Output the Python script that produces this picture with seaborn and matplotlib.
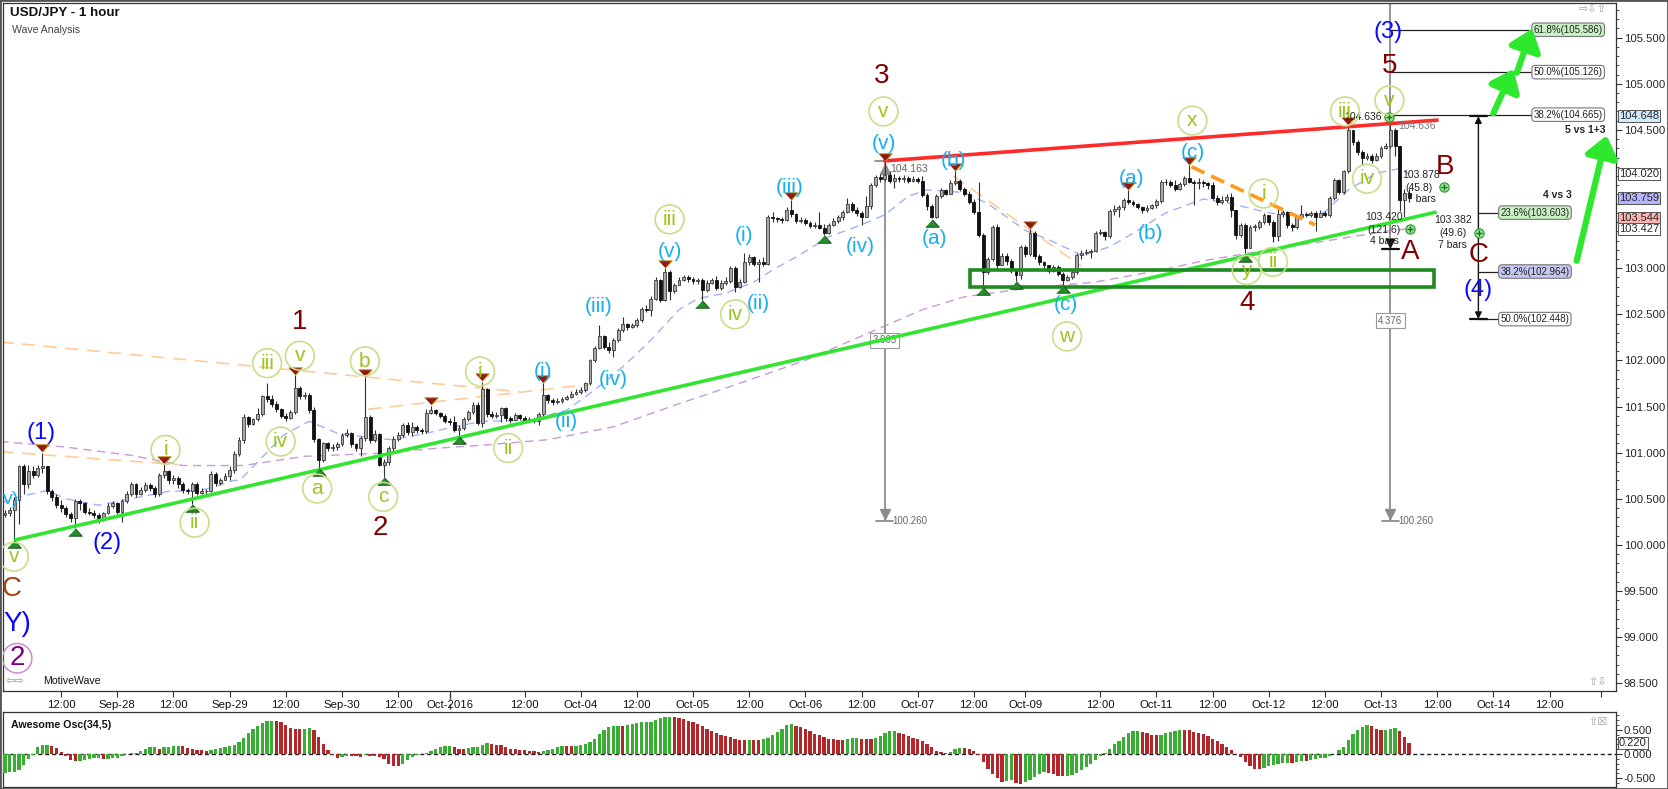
import numpy as np
import pandas as pd
import matplotlib
matplotlib.use("Agg")
import matplotlib.pyplot as plt
import matplotlib.transforms as mtransforms
from matplotlib.lines import Line2D
from matplotlib.patches import Rectangle
from matplotlib.ticker import MultipleLocator, FixedLocator
import seaborn as sns

sns.set_theme(style="white")
plt.rcParams["font.family"] = ["Liberation Sans", "DejaVu Sans"]
plt.rcParams["axes.linewidth"] = 0.8

# ---------------- data (USD/JPY hourly) ----------------
first_open = 100.32
closes = [
    100.34, 100.38, 100.49, 100.85, 100.66, 100.80, 100.76, 100.83, 100.85, 100.58,
    100.52, 100.43, 100.40, 100.33, 100.29, 100.47, 100.45, 100.36, 100.35, 100.32,
    100.27, 100.34, 100.42, 100.45, 100.36, 100.47, 100.55, 100.66, 100.55, 100.59,
    100.65, 100.62, 100.55, 100.76, 100.80, 100.70, 100.73, 100.66, 100.59, 100.58,
    100.66, 100.56, 100.58, 100.58, 100.77, 100.67, 100.70, 100.75, 100.81, 100.99,
    101.14, 101.39, 101.31, 101.36, 101.42, 101.61, 101.58, 101.53, 101.47, 101.40,
    101.37, 101.44, 101.70, 101.61, 101.62, 101.46, 101.15, 100.92, 101.10, 101.05,
    101.06, 101.09, 101.19, 101.21, 101.09, 101.05, 101.16, 101.39, 101.14, 101.20,
    100.87, 100.90, 101.05, 101.15, 101.19, 101.30, 101.22, 101.28, 101.25, 101.23,
    101.43, 101.46, 101.43, 101.40, 101.34, 101.33, 101.25, 101.27, 101.36, 101.44,
    101.52, 101.32, 101.69, 101.42, 101.40, 101.41, 101.48, 101.37, 101.35, 101.41,
    101.38, 101.35, 101.36, 101.34, 101.42, 101.62, 101.57, 101.55, 101.56, 101.58,
    101.60, 101.64, 101.66, 101.68, 101.75, 102.00, 102.13, 102.26, 102.15, 102.11,
    102.22, 102.33, 102.40, 102.36, 102.38, 102.44, 102.56, 102.55, 102.67, 102.87,
    102.66, 102.96, 102.75, 102.82, 102.87, 102.90, 102.88, 102.86, 102.87, 102.76,
    102.84, 102.87, 102.78, 102.84, 102.86, 103.00, 102.80, 102.85, 103.07, 103.12,
    103.05, 103.07, 103.05, 103.56, 103.54, 103.53, 103.52, 103.63, 103.59, 103.51,
    103.52, 103.49, 103.46, 103.47, 103.44, 103.38, 103.47, 103.51, 103.56, 103.61,
    103.70, 103.63, 103.60, 103.56, 103.67, 103.90, 103.99, 103.97, 104.01, 103.95,
    103.98, 103.97, 103.98, 103.95, 103.97, 103.95, 103.79, 103.67, 103.56, 103.78,
    103.85, 103.81, 103.92, 103.95, 103.86, 103.81, 103.72, 103.61, 103.36, 102.96,
    103.10, 103.45, 103.03, 103.13, 103.08, 102.98, 102.93, 103.23, 103.15, 103.38,
    103.13, 103.07, 103.03, 102.97, 103.01, 102.94, 102.87, 102.90, 102.96, 103.14,
    103.16, 103.18, 103.19, 103.38, 103.39, 103.35, 103.62, 103.64, 103.66, 103.74,
    103.72, 103.70, 103.66, 103.63, 103.65, 103.68, 103.73, 103.94, 103.93, 103.90,
    103.86, 103.91, 103.98, 103.94, 103.92, 103.93, 103.92, 103.90, 103.76, 103.72,
    103.74, 103.77, 103.63, 103.36, 103.47, 103.22, 103.45, 103.45, 103.50, 103.58,
    103.50, 103.35, 103.59, 103.61, 103.47, 103.45, 103.56, 103.59, 103.58, 103.60,
    103.55, 103.60, 103.58, 103.76, 103.96, 103.83, 104.05, 104.50, 104.37, 104.26,
    104.19, 104.22, 104.17, 104.22, 104.30, 104.33, 104.50, 104.32, 103.74, 103.82,
    103.76,
]
highs = [
    100.38, 100.41, 100.52, 100.87, 100.88, 100.87, 100.85, 100.87, 101.00, 100.85,
    100.60, 100.55, 100.49, 100.42, 100.36, 100.50, 100.50, 100.46, 100.40, 100.38,
    100.34, 100.36, 100.45, 100.48, 100.46, 100.50, 100.58, 100.68, 100.67, 100.63,
    100.68, 100.67, 100.64, 100.78, 100.88, 100.81, 100.76, 100.75, 100.68, 100.62,
    100.68, 100.68, 100.62, 100.61, 100.80, 100.79, 100.73, 100.78, 100.86, 101.02,
    101.17, 101.42, 101.40, 101.38, 101.48, 101.63, 101.75, 101.62, 101.56, 101.48,
    101.43, 101.46, 101.84, 101.72, 101.66, 101.65, 101.49, 101.16, 101.12, 101.11,
    101.09, 101.12, 101.21, 101.26, 101.22, 101.10, 101.18, 101.82, 101.41, 101.24,
    101.21, 100.93, 101.07, 101.18, 101.22, 101.32, 101.33, 101.33, 101.30, 101.27,
    101.47, 101.51, 101.47, 101.44, 101.42, 101.37, 101.40, 101.30, 101.39, 101.46,
    101.55, 101.55, 101.77, 101.70, 101.45, 101.44, 101.50, 101.50, 101.40, 101.43,
    101.42, 101.40, 101.39, 101.38, 101.44, 101.75, 101.64, 101.59, 101.59, 101.60,
    101.63, 101.67, 101.69, 101.71, 101.77, 102.02, 102.16, 102.38, 102.28, 102.20,
    102.24, 102.35, 102.47, 102.41, 102.41, 102.46, 102.58, 102.60, 102.70, 102.90,
    102.88, 103.00, 102.98, 102.84, 102.90, 102.93, 102.93, 102.90, 102.89, 102.89,
    102.87, 102.89, 102.91, 102.87, 102.90, 103.02, 103.02, 102.88, 103.16, 103.15,
    103.13, 103.10, 103.12, 103.58, 103.61, 103.56, 103.55, 103.66, 103.74, 103.60,
    103.55, 103.54, 103.51, 103.50, 103.61, 103.48, 103.49, 103.54, 103.58, 103.63,
    103.76, 103.72, 103.66, 103.62, 103.78, 103.92, 104.01, 104.02, 104.163, 104.05,
    104.02, 104.00, 104.01, 104.00, 104.00, 103.99, 104.00, 103.82, 103.70, 103.80,
    103.87, 103.86, 103.96, 104.05, 103.97, 103.88, 103.84, 103.75, 103.94, 103.38,
    103.12, 103.47, 103.48, 103.16, 103.16, 103.10, 102.99, 103.25, 103.25, 103.42,
    103.40, 103.15, 103.08, 103.04, 103.03, 103.03, 102.96, 102.93, 102.98, 103.16,
    103.20, 103.21, 103.21, 103.40, 103.42, 103.40, 103.64, 103.68, 103.69, 103.76,
    103.85, 103.74, 103.71, 103.67, 103.68, 103.70, 103.75, 103.96, 103.97, 103.96,
    103.96, 103.94, 104.00, 104.12, 103.96, 103.98, 103.96, 103.94, 103.93, 103.79,
    103.78, 103.80, 103.82, 103.63, 103.49, 103.49, 103.47, 103.48, 103.52, 103.60,
    103.58, 103.52, 103.64, 103.63, 103.62, 103.49, 103.58, 103.68, 103.61, 103.62,
    103.62, 103.63, 103.62, 103.78, 103.98, 103.97, 104.07, 104.554, 104.50, 104.39,
    104.28, 104.25, 104.24, 104.25, 104.32, 104.36, 104.636, 104.52, 104.32, 103.86,
    103.86,
]
lows = [
    100.30, 100.31, 100.05, 100.23, 100.55, 100.62, 100.72, 100.74, 100.78, 100.55,
    100.48, 100.40, 100.36, 100.30, 100.25, 100.18, 100.38, 100.33, 100.32, 100.29,
    100.24, 100.26, 100.33, 100.40, 100.33, 100.25, 100.45, 100.53, 100.52, 100.54,
    100.57, 100.58, 100.52, 100.53, 100.72, 100.66, 100.66, 100.62, 100.56, 100.55,
    100.44, 100.54, 100.55, 100.55, 100.57, 100.64, 100.65, 100.70, 100.70, 100.78,
    100.96, 101.10, 101.28, 101.30, 101.34, 101.40, 101.55, 101.50, 101.44, 101.37,
    101.34, 101.36, 101.42, 101.58, 101.58, 101.43, 101.12, 100.83, 100.90, 101.02,
    101.02, 101.03, 101.07, 101.17, 101.06, 101.02, 100.96, 101.13, 101.10, 101.12,
    100.85, 100.74, 100.87, 101.02, 101.13, 101.17, 101.19, 101.18, 101.21, 101.20,
    101.21, 101.42, 101.41, 101.37, 101.32, 101.30, 101.22, 101.18, 101.25, 101.34,
    101.42, 101.30, 101.28, 101.39, 101.37, 101.37, 101.33, 101.34, 101.32, 101.36,
    101.35, 101.33, 101.33, 101.32, 101.30, 101.40, 101.54, 101.52, 101.53, 101.54,
    101.57, 101.59, 101.62, 101.64, 101.66, 101.73, 101.98, 102.12, 102.12, 102.08,
    102.04, 102.20, 102.31, 102.33, 102.35, 102.36, 102.42, 102.52, 102.48, 102.65,
    102.63, 102.64, 102.66, 102.73, 102.82, 102.86, 102.85, 102.83, 102.83, 102.66,
    102.74, 102.83, 102.76, 102.76, 102.82, 102.84, 102.74, 102.78, 102.84, 103.04,
    103.02, 102.85, 103.02, 103.03, 103.50, 103.50, 103.49, 103.51, 103.56, 103.49,
    103.49, 103.47, 103.44, 103.44, 103.42, 103.36, 103.37, 103.46, 103.49, 103.52,
    103.60, 103.61, 103.57, 103.47, 103.55, 103.64, 103.88, 103.93, 103.95, 103.92,
    103.87, 103.93, 103.94, 103.92, 103.93, 103.92, 103.77, 103.63, 103.54, 103.54,
    103.76, 103.79, 103.80, 103.90, 103.84, 103.78, 103.70, 103.59, 103.34, 102.80,
    102.94, 103.08, 103.00, 103.06, 103.04, 102.95, 102.86, 102.88, 103.12, 103.13,
    103.10, 103.04, 103.00, 102.95, 102.96, 102.91, 102.82, 102.86, 102.88, 102.94,
    103.10, 103.14, 103.11, 103.18, 103.36, 103.31, 103.33, 103.58, 103.56, 103.63,
    103.70, 103.67, 103.64, 103.60, 103.61, 103.64, 103.65, 103.71, 103.90, 103.88,
    103.84, 103.85, 103.89, 103.92, 103.69, 103.86, 103.88, 103.86, 103.74, 103.69,
    103.70, 103.72, 103.56, 103.32, 103.34, 103.16, 103.30, 103.40, 103.43, 103.48,
    103.47, 103.28, 103.30, 103.55, 103.44, 103.40, 103.43, 103.55, 103.55, 103.56,
    103.40, 103.56, 103.55, 103.56, 103.74, 103.80, 103.81, 104.03, 104.34, 104.23,
    104.12, 104.17, 104.14, 104.16, 104.20, 104.29, 104.30, 104.22, 103.62, 103.55,
    103.72,
]
# oscillator values of the first bars (their 34-bar window lies before the chart)
ao_head = [-0.40, -0.38, -0.36, -0.32, -0.23, -0.10, -0.02, 0.14, 0.18, 0.18,
           0.16, 0.12, 0.05, -0.05, -0.12, -0.14, -0.14, -0.12, -0.10, -0.09,
           -0.09, -0.10, -0.10, -0.08, -0.075, -0.05, -0.01, 0.01, 0.03, 0.07,
           0.10, 0.14, 0.14]

tick_idx = [12, 24, 36, 48, 60, 72, 84, 95, 111, 123, 135, 147, 159, 171, 183, 195,
            207, 218, 234, 246, 258, 270, 282, 294, 306, 318, 330, 341]
tick_labels = ["12:00", "Sep-28", "12:00", "Sep-29", "12:00", "Sep-30", "12:00", "Oct-2016",
               "12:00", "Oct-04", "12:00", "Oct-05", "12:00", "Oct-06", "12:00", "Oct-07",
               "12:00", "Oct-09", "12:00", "Oct-11", "12:00", "Oct-12", "12:00", "Oct-13",
               "12:00", "Oct-14", "12:00", ""]
month_start_idx = 95
price_ticks = [98.5, 99.0, 99.5, 100.0, 100.5, 101.0, 101.5, 102.0, 102.5, 103.0, 103.5,
               104.0, 104.5, 105.0, 105.5]
price_tick_labels = ["98.500", "99.000", "99.500", "100.000", "100.500", "101.000",
                     "101.500", "102.000", "102.500", "103.000", "", "", "104.500",
                     "105.000", "105.500"]

blue_ma_idx = [-1, 3, 9, 13, 20, 27, 35, 42, 49, 50.2, 59.5, 65, 71, 80, 83, 90, 96, 102,
               112, 120, 126, 132, 138, 144, 148, 154, 160, 164, 169, 176, 183, 188, 193,
               197, 205, 210, 218, 223, 230, 236, 242, 248, 256, 262, 270, 277, 282, 287,
               293, 298, 300]
blue_ma_val = [100.45, 100.52, 100.59, 100.50, 100.43, 100.50, 100.58, 100.59, 100.70,
               100.70, 101.19, 101.34, 101.21, 101.15, 101.14, 101.21, 101.28, 101.34,
               101.35, 101.46, 101.68, 101.93, 102.22, 102.55, 102.67, 102.73, 102.85,
               102.98, 103.12, 103.34, 103.47, 103.58, 103.78, 103.85, 103.82, 103.70,
               103.41, 103.31, 103.14, 103.23, 103.41, 103.60, 103.75, 103.70, 103.60,
               103.56, 103.61, 103.85, 104.03, 104.08, 104.02]
purple_ma_idx = [-1, 13, 27, 38, 51, 64, 79, 93, 102, 116, 130, 144, 154, 171, 186, 196,
                 205, 218, 233, 247, 256, 270, 284, 295, 300]
purple_ma_val = [101.12, 101.06, 100.97, 100.86, 100.86, 100.96, 100.99, 101.05, 101.08,
                 101.14, 101.28, 101.53, 101.70, 102.00, 102.33, 102.55, 102.69, 102.78,
                 102.85, 102.98, 103.08, 103.20, 103.31, 103.40, 103.43]

swing_high_idx = [8, 34, 62, 77, 91, 102, 115, 141, 168, 188, 203, 219, 240, 253, 287]
swing_low_idx = [2, 15, 40, 67, 81, 97, 149, 175, 198, 209, 216, 226, 265]

circ_labels = ["v", "i", "ii", "iii", "iv", "v", "a", "b", "c", "i", "ii", "iii", "iv", "v",
               "w", "x", "y", "i", "ii", "iii", "iv", "v"]
circ_x = [1.9, 34.3, 40.5, 56.0, 58.9, 63.0, 66.7, 76.9, 80.8, 101.5, 107.5, 142.0, 156.0,
          187.7, 226.9, 253.7, 265.3, 268.9, 270.9, 286.3, 291.0, 295.8]
circ_y = [99.87, 101.03, 100.24, 101.97, 101.12, 102.05, 100.61, 101.99, 100.52, 101.88,
          101.05, 103.53, 102.50, 104.70, 102.26, 104.60, 102.98, 103.81, 103.07, 104.70,
          103.97, 104.82]

lb_labels = ["(i)", "(ii)", "(iii)", "(iv)", "(v)", "(i)", "(ii)", "(iii)", "(iv)",
             "(v)", "(a)", "(b)", "(c)", "(a)", "(b)", "(c)"]
lb_x = [114.9, 119.9, 126.8, 130.0, 142.0, 157.8, 161.0, 167.7, 182.7, 187.7, 198.7,
        202.6, 226.7, 240.7, 244.7, 253.7]
lb_y = [101.88, 101.34, 102.58, 101.79, 103.18, 103.35, 102.62, 103.87, 103.23,
        104.35, 103.32, 104.17, 102.61, 103.97, 103.38, 104.26]

blue_labels = ["(1)", "(2)", "(3)", "(4)"]
blue_x = [7.8, 21.9, 295.6, 314.8]
blue_y = [101.21, 100.02, 105.56, 102.76]

red_labels = ["1", "2", "3", "4", "5", "A", "B", "C"]
red_x = [63.0, 80.2, 187.3, 265.3, 295.8, 300.2, 307.7, 314.8]
red_y = [102.42, 100.18, 105.08, 102.62, 105.19, 103.18, 104.10, 103.14]

green_trend_x = [1.9, 305.9]
green_trend_y = [100.05, 103.61]
red_trend_x = [187.7, 306.3]
red_trend_y = [104.163, 104.607]
zone_x = [206.2, 305.3]
zone_y = [102.80, 102.98]
orange_x = [253.5, 279.9]
orange_y = [104.10, 103.47]
light_orange_segments = [
    ([-1.0, 110.0], [102.20, 101.66]),
    ([-1.0, 37.0], [101.01, 100.87]),
    ([77.6, 125.0], [101.47, 101.74]),
    ([202.6, 230.0], [104.00, 103.02]),
]

measure_x = [188.0, 296.0]
measure_top = [104.163, 105.86]
measure_bottom = [100.26, 100.26]
measure_box_y = [102.22, 102.43]
measure_box_text = ["3.903", "4.376"]

fib_up_levels = [105.586, 105.126, 104.665]
fib_up_text = ["61.8%(105.586)", "50.0%(105.126)", "38.2%(104.665)"]
fib_up_fc = ["#c9f2c4", "#ffffff", "#ffffff"]
fib_dn_levels = [103.603, 102.964, 102.448]
fib_dn_text = ["23.6%(103.603)", "38.2%(102.964)", "50.0%(102.448)"]
fib_dn_fc = ["#c9f2c4", "#c6c8f4", "#ffffff"]

target_arrows = [((318.0, 104.68), (322.3, 105.16)),
                 ((323.0, 105.12), (326.3, 105.60)),
                 ((335.8, 103.08), (342.2, 104.44))]

axis_boxes_val = [104.648, 104.020, 103.759, 103.544, 103.427]
axis_boxes_fc = ["#d2ecff", "#ffffff", "#b4b4ff", "#ffb4b4", "#ffffff"]

cplus_x = [295.6, 307.5, 300.2, 315.0]
cplus_y = [104.636, 103.88, 103.42, 103.38]

# ---------------- figure ----------------
W, H = 1668, 789
fig = plt.figure(figsize=(W / 100, H / 100), dpi=100)
fig.patch.set_facecolor("white")


def fx(px):
    return px / W


def fy(py):
    return 1 - py / H


ax = fig.add_axes([fx(2.5), fy(690.7), fx(1616) - fx(2.5), fy(3) - fy(690.7)])
ax2 = fig.add_axes([fx(2.5), fy(787), fx(1616) - fx(2.5), fy(712) - fy(787)])
XL = (-0.53, 344.2)
ax.set_xlim(*XL)
ax.set_ylim(98.418, 105.876)
ax2.set_xlim(*XL)
ax2.set_ylim(-0.678, 0.862)
for a in (ax, ax2):
    a.set_facecolor("white")
    for s in a.spines.values():
        s.set_color("#333333")
        s.set_linewidth(0.9)

idx = np.arange(len(closes))
c = np.array(closes)
o = np.r_[first_open, c[:-1]]
h = np.maximum(np.array(highs), np.maximum(o, c))
l = np.minimum(np.array(lows), np.minimum(o, c))
up = c >= o

# moving averages (dashed)
sns.lineplot(x=purple_ma_idx, y=purple_ma_val, ax=ax, color="#c99ad6", lw=1.0,
             linestyle=(0, (6, 4)), zorder=1)
sns.lineplot(x=blue_ma_idx, y=blue_ma_val, ax=ax, color="#9fb3f5", lw=1.0,
             linestyle=(0, (6, 4)), zorder=1)
for xs, ys in light_orange_segments:
    ax.plot(xs, ys, color="#ffcc99", lw=1.2, linestyle=(0, (8, 5)), zorder=1)

# measurement lines
for mx, mt, mb, by, bt in zip(measure_x, measure_top, measure_bottom, measure_box_y,
                              measure_box_text):
    ax.plot([mx, mx], [mb, mt], color="#8c8c8c", lw=1.3, zorder=2)
    ax.plot([mx - 1.8, mx + 1.8], [mb, mb], color="#8c8c8c", lw=1.3, zorder=2)
    ax.plot(mx, mb + 0.07, marker="v", ms=7, color="#8c8c8c", zorder=2)
    ax.text(mx + 1.6, mb, "100.260", fontsize=7, color="#666666", ha="left", va="center")
    ax.text(mx, by, bt, fontsize=7, color="#666666", ha="center", va="center", zorder=3,
            bbox=dict(boxstyle="square,pad=0.25", fc="white", ec="#9a9a9a", lw=0.8))
ax.plot([measure_x[0] - 2.2, measure_x[0] + 2.2], [measure_top[0], measure_top[0]],
        color="#8c8c8c", lw=1.3, zorder=2)
ax.plot(measure_x[0], measure_top[0] - 0.09, marker="^", ms=7, color="#8c8c8c", zorder=2)
ax.text(189.2, 104.08, "104.163", fontsize=7.5, color="#666666", ha="left", va="center")

# candles
ax.vlines(idx, l, h, color="#303030", lw=0.8, zorder=3)
bb = np.minimum(o, c)
bh = np.maximum(np.abs(c - o), 0.008)
ax.bar(idx[up], bh[up], bottom=bb[up], width=0.62, color="#a9a9a9", edgecolor="#3a3a3a",
       linewidth=0.6, zorder=4)
ax.bar(idx[~up], bh[~up], bottom=bb[~up], width=0.62, color="#111111", edgecolor="#111111",
       linewidth=0.6, zorder=4)

# trend lines & zone
ax.plot(green_trend_x, green_trend_y, color="#33e433", lw=2.6, zorder=5,
        solid_capstyle="butt")
ax.plot(red_trend_x, red_trend_y, color="#ff2a2a", lw=2.6, zorder=5, solid_capstyle="butt")
ax.add_patch(Rectangle((zone_x[0], zone_y[0]), zone_x[1] - zone_x[0], zone_y[1] - zone_y[0],
                       fill=False, ec="#1f8a1f", lw=2.6, zorder=5))
ax.plot(orange_x, orange_y, color="#ff9a1a", lw=2.6, linestyle=(0, (4, 2)), zorder=5)

# swing triangles
tri_dn = [(-1, 0.55), (1, 0.55), (0, -0.55)]
tri_up = [(-1, -0.55), (1, -0.55), (0, 0.55)]
sh = np.array(swing_high_idx)
sl = np.array(swing_low_idx)
sns.scatterplot(x=sh, y=h[sh] + 0.045, marker=tri_dn, s=95, color="#8e1a12",
                edgecolor="#c9961e", linewidth=0.7, ax=ax, zorder=6, legend=False)
sns.scatterplot(x=sl, y=l[sl] - 0.045, marker=tri_up, s=95, color="#23902a",
                edgecolor="#1a4d1a", linewidth=0.7, ax=ax, zorder=6, legend=False)

# fib levels
for lvl, txt, fc in zip(fib_up_levels, fib_up_text, fib_up_fc):
    ax.plot([295.9, 326.1], [lvl, lvl], color="#222222", lw=0.9, zorder=5)
    ax.text(326.6, lvl, txt, fontsize=7, ha="left", va="center", color="#222222", zorder=7,
            bbox=dict(boxstyle="round,pad=0.18,rounding_size=0.35", fc=fc, ec="#777777",
                      lw=0.8))
for lvl, txt, fc in zip(fib_dn_levels, fib_dn_text, fib_dn_fc):
    ax.plot([314.8, 319.0], [lvl, lvl], color="#222222", lw=0.9, zorder=5)
    ax.text(319.5, lvl, txt, fontsize=7, ha="left", va="center", color="#222222", zorder=7,
            bbox=dict(boxstyle="round,pad=0.18,rounding_size=0.35", fc=fc, ec="#777777",
                      lw=0.8))
ax.text(341.9, 104.50, "5 vs 1+3", fontsize=7.5, fontweight="bold", ha="right", va="center")
ax.text(334.8, 103.79, "4 vs 3", fontsize=7.5, fontweight="bold", ha="right", va="center")

# vertical range arrow (C / (4))
ax.annotate("", xy=(314.8, 104.648), xytext=(314.8, 102.448),
            arrowprops=dict(arrowstyle="<|-|>", color="#111111", lw=1.0, mutation_scale=10,
                            shrinkA=0, shrinkB=0), zorder=6)
for yv in (104.648, 102.448):
    ax.plot([313.0, 316.6], [yv, yv], color="#111111", lw=1.6, zorder=6)

# A measurement end
ax.plot([294.2, 297.8], [103.21, 103.21], color="#111111", lw=1.6, zorder=6)
ax.plot(296.0, 103.27, marker="v", ms=6, color="#111111", zorder=6)

# green target arrows
for (x0, y0), (x1, y1) in target_arrows:
    ax.annotate("", xy=(x1, y1), xytext=(x0, y0),
                arrowprops=dict(arrowstyle="-|>,head_length=0.7,head_width=0.55",
                                color="#2ee82e", lw=4.5, mutation_scale=18,
                                shrinkA=0, shrinkB=0), zorder=7)

# circle-plus markers and measurement texts
sns.scatterplot(x=cplus_x, y=cplus_y, marker="o", s=45, color="#8fe08f",
                edgecolor="#2c9a2c", linewidth=0.8, ax=ax, zorder=8, legend=False)
sns.scatterplot(x=cplus_x, y=cplus_y, marker="+", s=22, color="#1b6b1b", linewidth=0.9,
                ax=ax, zorder=9, legend=False)
small = dict(fontsize=7.5, color="#222222", zorder=8)
ax.text(294.2, 104.636, "104.636", ha="right", va="center", **small)
ax.text(297.6, 104.54, "104.636", ha="left", va="center", fontsize=7.5, color="#777777",
        zorder=8)
ax.text(298.6, 104.01, "103.878", ha="left", va="center", **small)
ax.text(299.3, 103.87, "(45.8)", ha="left", va="center", **small)
ax.text(299.6, 103.75, "7 bars", ha="left", va="center", **small)
ax.text(294.7, 103.55, "103.420", ha="center", va="center", **small)
ax.text(294.7, 103.41, "(121.6)", ha="center", va="center", **small)
ax.text(294.7, 103.30, "4 bars", ha="center", va="center", **small)
ax.text(309.3, 103.52, "103.382", ha="center", va="center", **small)
ax.text(309.3, 103.38, "(49.6)", ha="center", va="center", **small)
ax.text(309.3, 103.25, "7 bars", ha="center", va="center", **small)

# wave labels
sns.scatterplot(x=circ_x, y=circ_y, marker="o", s=430, facecolor="none",
                edgecolor="#c6df8a", linewidth=1.2, ax=ax, zorder=8, legend=False)
for t, xx, yy in zip(circ_labels, circ_x, circ_y):
    ax.text(xx, yy, t, fontsize=15, color="#9bc61e", ha="center", va="center", zorder=9)
for t, xx, yy in zip(lb_labels, lb_x, lb_y):
    ax.text(xx, yy, t, fontsize=15, color="#17aef0", ha="center", va="center", zorder=9)
ax.text(-0.45, 100.49, "v)", fontsize=14, color="#17aef0", ha="left", va="center",
        zorder=9)
for t, xx, yy in zip(blue_labels, blue_x, blue_y):
    ax.text(xx, yy, t, fontsize=17, color="#0a0aff", ha="center", va="center", zorder=9)
for t, xx, yy in zip(red_labels, red_x, red_y):
    ax.text(xx, yy, t, fontsize=20, color="#800000", ha="center", va="center", zorder=9)
ax.text(1.5, 99.52, "C", fontsize=20, color="#a8400c", ha="center", va="center", zorder=9)
ax.text(-0.45, 99.14, "Y)", fontsize=20, color="#0a0aff", ha="left", va="center", zorder=9)
ax.scatter([2.6], [98.77], s=450, facecolor="none", edgecolor="#d08ad0", linewidth=1.1,
           zorder=8, clip_on=True)
ax.text(2.6, 98.77, "2", fontsize=20, color="#800080", ha="center", va="center", zorder=9)

# axes, ticks
ax.xaxis.set_major_locator(FixedLocator(tick_idx))
ax.set_xticklabels(tick_labels)
ax.tick_params(axis="x", direction="out", length=4, width=0.8, color="#333333",
               labelsize=8.2, pad=2.5, labelcolor="#111111", bottom=True)
ax.yaxis.tick_right()
ax.set_yticks(price_ticks)
ax.set_yticklabels(price_tick_labels)
ax.yaxis.set_minor_locator(MultipleLocator(0.1))
ax.tick_params(axis="y", which="major", direction="out", length=4, width=0.8,
               color="#333333", labelsize=8.2, pad=1.5, right=True, left=False)
ax.tick_params(axis="y", which="minor", direction="out", length=2, width=0.6,
               color="#333333", right=True, left=False)
ax.set_xlabel("")
ax.set_ylabel("")
blend = mtransforms.blended_transform_factory(ax.transAxes, ax.transData)
for v, fc in zip(axis_boxes_val, axis_boxes_fc):
    ax.text(1.0018, v, f"{v:.3f}", transform=blend, fontsize=8.0, ha="left", va="center",
            zorder=10, clip_on=False,
            bbox=dict(boxstyle="square,pad=0.08", fc=fc, ec="#555555", lw=0.7))

# ---------------- Awesome oscillator ----------------
med = pd.Series((h + l) / 2.0)
ao = (med.rolling(5).mean() - med.rolling(34).mean()).values
ao[:len(ao_head)] = ao_head
ao_prev = np.r_[ao[0] - 1, ao[:-1]]
ao_col = np.where(ao >= ao_prev, "#3aad35", "#b5262a")
ax2.bar(idx, ao, width=0.7, color=ao_col, linewidth=0, zorder=3)
ax2.axhline(0, color="#222222", lw=1.0, linestyle=(0, (3, 2)), zorder=2)
ax2.set_xticks([])
ax2.yaxis.tick_right()
ax2.set_yticks([-0.5, 0.0, 0.5])
ax2.set_yticklabels(["-0.500", "0.000", "0.500"])
ax2.yaxis.set_minor_locator(MultipleLocator(0.1))
ax2.tick_params(axis="y", which="major", direction="out", length=4, width=0.8,
                color="#333333", labelsize=8.2, pad=1.5, right=True, left=False)
ax2.tick_params(axis="y", which="minor", direction="out", length=2, width=0.6,
                color="#333333", right=True, left=False)
ax2.set_xlabel("")
ax2.set_ylabel("")
blend2 = mtransforms.blended_transform_factory(ax2.transAxes, ax2.transData)
ax2.text(1.0018, 0.22, "0.220", transform=blend2, fontsize=8.0, ha="left", va="center",
         clip_on=False, bbox=dict(boxstyle="square,pad=0.08", fc="white", ec="#555555",
                                  lw=0.7))
ax2.text(0.005, 0.82, "Awesome Osc(34,5)", transform=ax2.transAxes, fontsize=7.7,
         fontweight="bold", ha="left", va="center", color="#111111")

# month separator across both panes
pos = ax.get_position()
xm = pos.x0 + (month_start_idx - XL[0]) / (XL[1] - XL[0]) * pos.width
fig.add_artist(Line2D([xm, xm], [fy(787), fy(3)], transform=fig.transFigure,
                      color="#555555", lw=1.0, linestyle=(0, (4, 3)), zorder=0))

# header texts & small icons
fig.text(fx(10), fy(13.5), "USD/JPY - 1 hour", fontsize=9.6, fontweight="bold",
         ha="left", va="center", color="#111111")
fig.text(fx(12), fy(30), "Wave Analysis", fontsize=7.6, ha="left", va="center",
         color="#444444")
fig.text(fx(6), fy(681), "\u21e6\u21e8", fontsize=8, ha="left", va="center",
         color="#9a9a9a", family=["DejaVu Sans"])
fig.text(fx(43), fy(681), "MotiveWave", fontsize=7.6, ha="left", va="center",
         color="#111111")
fig.text(fx(1607), fy(9), "\u21e8\u21e9\u21e7", fontsize=8, ha="right", va="center",
         color="#a0a0a0", family=["DejaVu Sans"])
fig.text(fx(1607), fy(682), "\u21e7\u21e9", fontsize=8, ha="right", va="center",
         color="#a0a0a0", family=["DejaVu Sans"])
fig.text(fx(1607), fy(722), "\u21e7\u2612", fontsize=8, ha="right", va="center",
         color="#a0a0a0", family=["DejaVu Sans"])
fig.add_artist(Rectangle((0, 0), 1, 1, transform=fig.transFigure, fill=False,
                         ec="#555555", lw=2.0))

fig.savefig("out.png", dpi=100, facecolor="white")
